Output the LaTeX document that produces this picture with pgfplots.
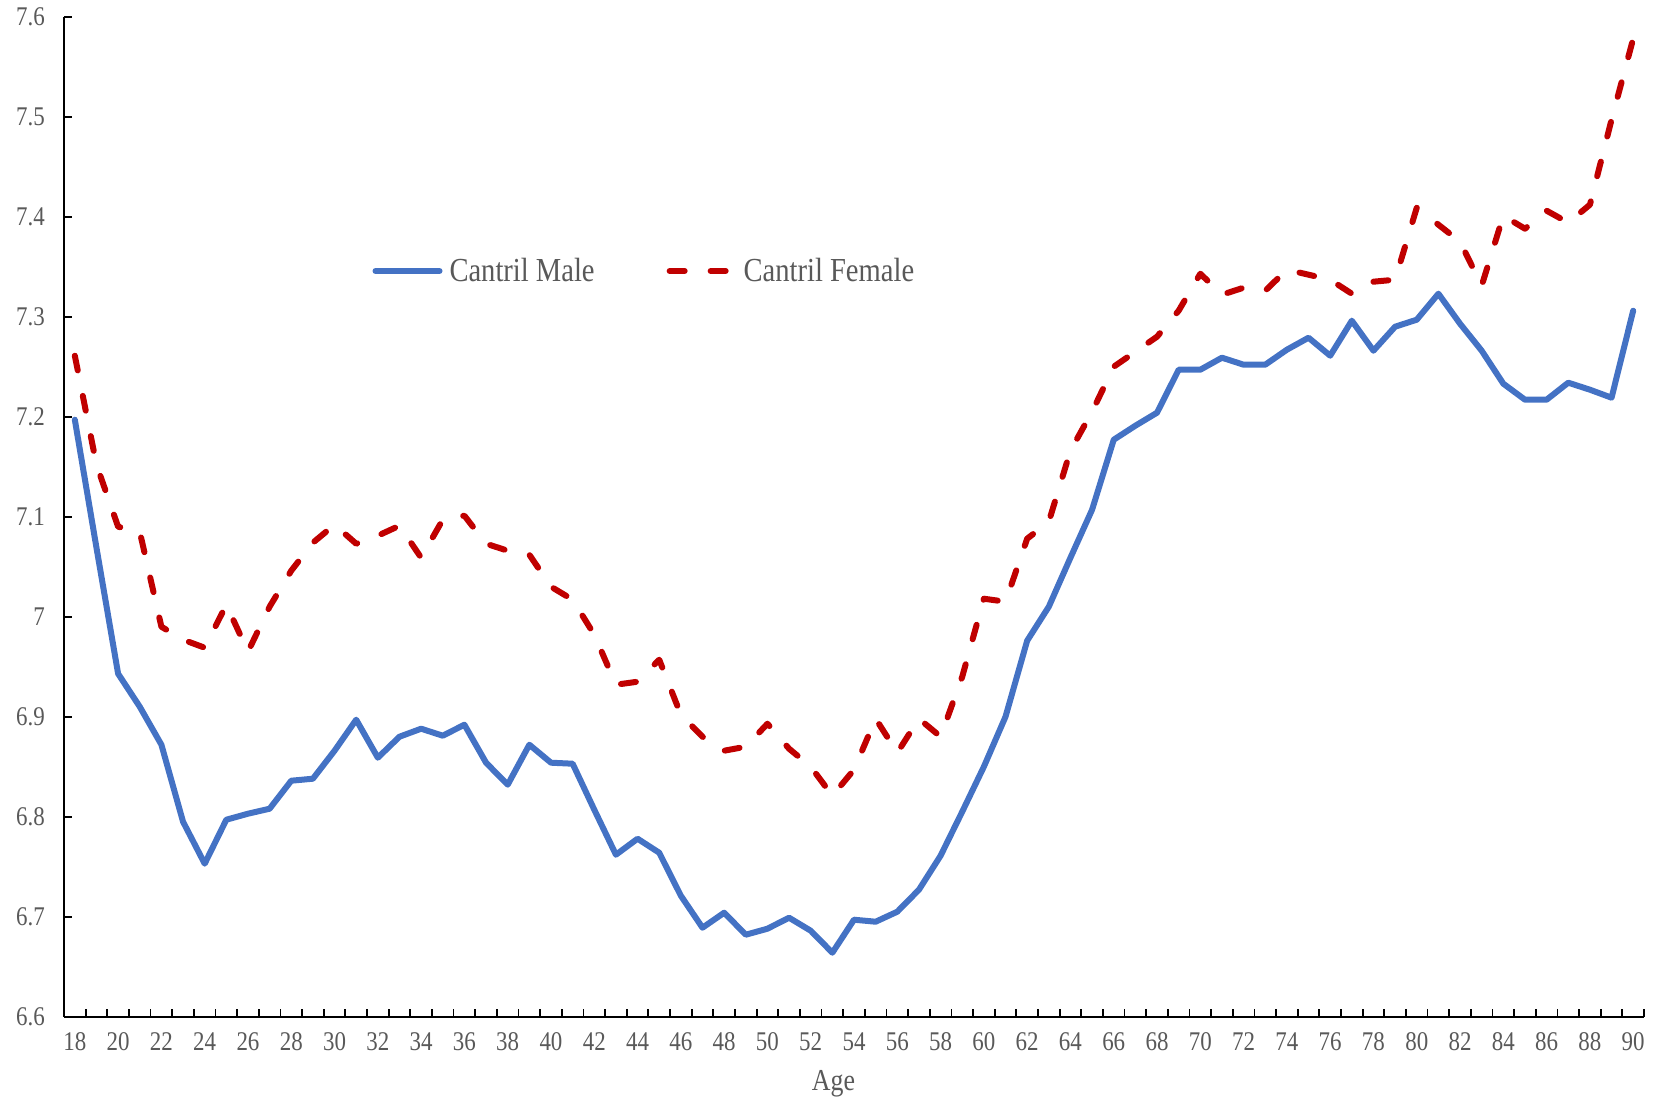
\documentclass[border=0pt]{standalone}
\usepackage{fontspec}
\setmainfont[FakeStretch=0.85]{Liberation Serif}
\usepackage{pgfplots}
\pgfplotsset{compat=1.18}
\definecolor{mblue}{HTML}{4472C4}
\definecolor{fred}{HTML}{C00000}
\definecolor{tgray}{HTML}{595959}
\begin{document}
\begin{tikzpicture}
\begin{axis}[
  scale only axis, width=790pt, height=500pt,
  xmin=17.5, xmax=90.5, ymin=6.6, ymax=7.6,
  axis lines*=left,
  axis line style={line width=0.9pt, black},
  xtick={18,20,...,90},
  minor xtick={17.5,18.5,...,90.5},
  major x tick style={draw=none},
  ytick={6.6,6.7,6.8,6.9,7.0,7.1,7.2,7.3,7.4,7.5,7.6},
  tick align=inside,
  major tick length=4pt, minor tick length=4pt,
  tick style={line width=0.9pt, black},
  /pgf/number format/assume math mode=true,
  yticklabel style={/pgf/number format/fixed, /pgf/number format/precision=1, xshift=-6pt},
  xticklabel style={yshift=-4.5pt},
  tick label style={font=\fontsize{13.5}{15}\selectfont, text=tgray},
  xlabel={Age},
  every axis x label/.style={at={(axis description cs:0.487,0)}, anchor=center, yshift=-33.5pt, font=\fontsize{15.2}{17}\selectfont, text=tgray},
  legend columns=2,
  legend style={at={(axis description cs:0.195,0.7457)}, anchor=west, draw=none, fill=none, inner sep=0pt,
    font=\fontsize{16.8}{18}\selectfont, text=tgray, nodes={inner sep=2pt},
    /tikz/every odd column/.append style={column sep=1.5pt},
    /tikz/every even column/.append style={column sep=34pt}},
  legend image code/.code={\draw[#1] (0pt,0pt) -- (32pt,0pt);},
  line join=round,
]
\coordinate (SW) at (rel axis cs:0,0);
\coordinate (NE) at (rel axis cs:1,1);
\addplot[mblue, line width=3pt, line cap=round] coordinates {
(18,7.197) (19,7.069) (20,6.943) (21,6.910) (22,6.872) (23,6.795) (24,6.753) (25,6.797) (26,6.803) (27,6.808)
(28,6.836) (29,6.838) (30,6.866) (31,6.897) (32,6.859) (33,6.880) (34,6.888) (35,6.881) (36,6.892) (37,6.854)
(38,6.832) (39,6.872) (40,6.854) (41,6.853) (42,6.807) (43,6.762) (44,6.778) (45,6.764) (46,6.721) (47,6.689)
(48,6.704) (49,6.682) (50,6.688) (51,6.699) (52,6.686) (53,6.664) (54,6.697) (55,6.695) (56,6.705) (57,6.727)
(58,6.761) (59,6.805) (60,6.850) (61,6.900) (62,6.976) (63,7.010) (64,7.059) (65,7.107) (66,7.177) (67,7.191)
(68,7.204) (69,7.247) (70,7.247) (71,7.259) (72,7.252) (73,7.252) (74,7.267) (75,7.279) (76,7.261) (77,7.296)
(78,7.266) (79,7.290) (80,7.297) (81,7.323) (82,7.293) (83,7.266) (84,7.233) (85,7.217) (86,7.217) (87,7.234)
(88,7.227) (89,7.219) (90,7.306)
};
\addlegendentry{Cantril Male}
\addplot[fred, line width=3pt, line cap=round, dash pattern=on 7.5pt off 13pt] coordinates {
(18,7.261) (19,7.152) (20,7.090) (21,7.085) (22,6.990) (23,6.977) (24,6.969) (25,7.012) (26,6.965) (27,7.010)
(28,7.046) (29,7.074) (30,7.092) (31,7.073) (32,7.081) (33,7.091) (34,7.059) (35,7.097) (36,7.101) (37,7.073)
(38,7.066) (39,7.062) (40,7.030) (41,7.017) (42,6.982) (43,6.932) (44,6.935) (45,6.957) (46,6.902) (47,6.880)
(48,6.866) (49,6.870) (50,6.893) (51,6.868) (52,6.850) (53,6.821) (54,6.847) (55,6.898) (56,6.864) (57,6.898)
(58,6.880) (59,6.940) (60,7.018) (61,7.015) (62,7.078) (63,7.095) (64,7.166) (65,7.205) (66,7.250) (67,7.265)
(68,7.280) (69,7.306) (70,7.343) (71,7.322) (72,7.329) (73,7.326) (74,7.347) (75,7.342) (76,7.337) (77,7.323)
(78,7.335) (79,7.337) (80,7.409) (81,7.392) (82,7.375) (83,7.331) (84,7.401) (85,7.388) (86,7.406) (87,7.394)
(88,7.412) (89,7.497) (90,7.578)
};
\addlegendentry{Cantril Female}
\end{axis}
\pgfresetboundingbox
\path[use as bounding box] ([shift={(-32pt,-41.15pt)}]SW) rectangle ([shift={(8pt,8.35pt)}]NE);
\end{tikzpicture}
\end{document}
